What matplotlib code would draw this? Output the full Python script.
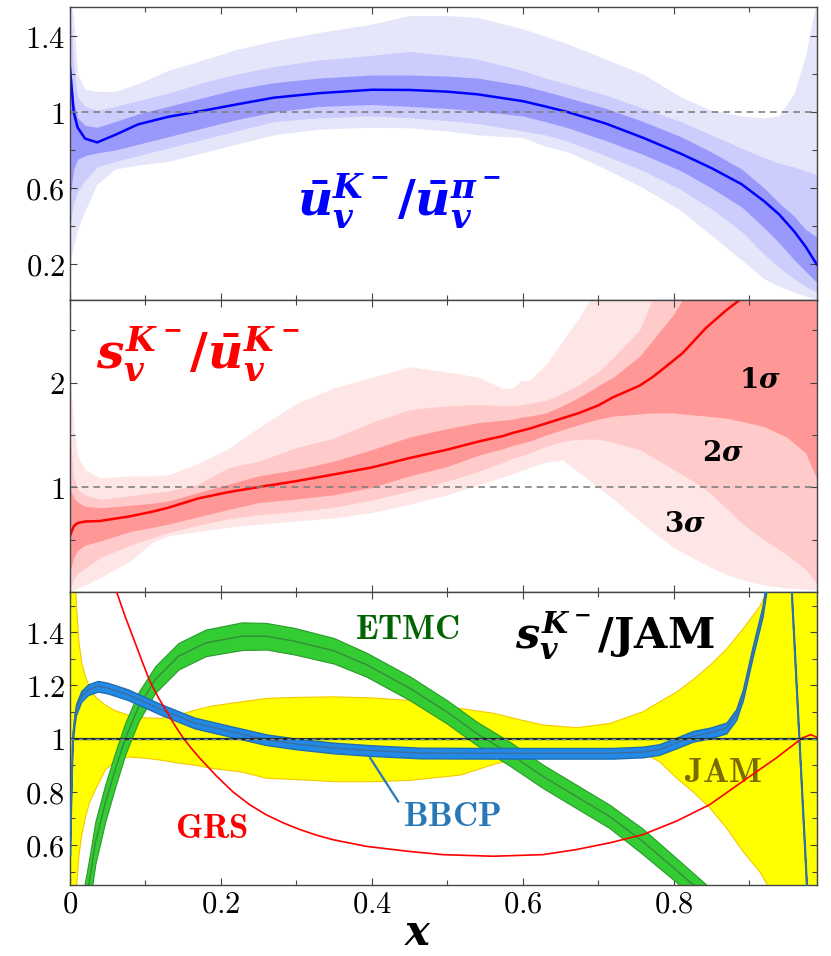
import numpy as np
import matplotlib
matplotlib.use("Agg")
import matplotlib.pyplot as plt
from matplotlib.ticker import FuncFormatter, MultipleLocator

plt.rcParams['mathtext.fontset'] = 'cm'
plt.rcParams['mathtext.it'] = 'DejaVu Serif:italic:bold'
plt.rcParams['mathtext.rm'] = 'DejaVu Serif:bold'
plt.rcParams['mathtext.bf'] = 'DejaVu Serif:bold'
plt.rcParams['mathtext.cal'] = 'DejaVu Serif:bold'
plt.rcParams['mathtext.sf'] = 'DejaVu Serif:bold'
plt.rcParams['mathtext.tt'] = 'DejaVu Serif:bold'

# ---- panel 1: ubar_v^K / ubar_v^pi ----
x_top = [0, 0.005, 0.01, 0.02, 0.036, 0.06, 0.09, 0.13, 0.18, 0.22, 0.27, 0.33, 0.40, 0.45, 0.50,
         0.54, 0.60, 0.63, 0.66, 0.71, 0.76, 0.81, 0.85, 0.89, 0.92, 0.94, 0.96, 0.975, 0.99]
u_mid = [1.23, 1.00, 0.92, 0.86, 0.84, 0.88, 0.935, 0.975, 1.01, 1.04, 1.076, 1.10, 1.118, 1.117, 1.108,
         1.094, 1.058, 1.03, 1.00, 0.94, 0.864, 0.78, 0.705, 0.62, 0.53, 0.46, 0.37, 0.29, 0.195]
u_lo1 = [0.55, 0.70, 0.75, 0.77, 0.785, 0.80, 0.83, 0.87, 0.92, 0.96, 1.00, 1.03, 1.04, 1.03, 1.02,
         1.005, 0.98, 0.95, 0.917, 0.85, 0.776, 0.69, 0.60, 0.50, 0.39, 0.31, 0.22, 0.16, 0.10]
u_hi1 = [1.30, 1.05, 0.97, 0.93, 0.92, 0.95, 0.99, 1.03, 1.08, 1.12, 1.155, 1.18, 1.196, 1.196, 1.19,
         1.18, 1.14, 1.11, 1.076, 1.02, 0.95, 0.87, 0.79, 0.70, 0.60, 0.52, 0.45, 0.38, 0.34]
u_lo2 = [0.40, 0.52, 0.58, 0.64, 0.71, 0.74, 0.77, 0.81, 0.86, 0.90, 0.95, 0.97, 0.98, 0.97, 0.955,
         0.94, 0.90, 0.88, 0.846, 0.77, 0.69, 0.59, 0.49, 0.37, 0.25, 0.18, 0.12, 0.08, 0.05]
u_hi2 = [1.60, 1.25, 1.08, 1.03, 1.01, 1.03, 1.06, 1.10, 1.16, 1.20, 1.24, 1.275, 1.30, 1.32, 1.30,
         1.28, 1.22, 1.18, 1.147, 1.09, 1.02, 0.95, 0.88, 0.81, 0.76, 0.73, 0.71, 0.69, 0.67]
u_lo3 = [0.20, 0.30, 0.38, 0.48, 0.62, 0.70, 0.72, 0.74, 0.79, 0.83, 0.88, 0.91, 0.92, 0.917, 0.90,
         0.88, 0.865, 0.82, 0.79, 0.70, 0.60, 0.48, 0.35, 0.22, 0.12, 0.08, 0.05, 0.03, 0.01]
u_hi3 = [1.60, 1.50, 1.20, 1.12, 1.11, 1.11, 1.15, 1.22, 1.28, 1.33, 1.376, 1.42, 1.465, 1.51, 1.51,
         1.50, 1.44, 1.40, 1.36, 1.28, 1.20, 1.08, 1.01, 0.98, 0.97, 0.98, 1.10, 1.30, 1.60]

# ---- panel 2: s_v^K / ubar_v^K ----
x_mid = [0, 0.005, 0.01, 0.02, 0.04, 0.08, 0.11, 0.13, 0.17, 0.21, 0.25, 0.30, 0.35, 0.40, 0.45, 0.50,
         0.543, 0.574, 0.587, 0.598, 0.609, 0.631, 0.653, 0.675, 0.689, 0.70, 0.72, 0.755, 0.772, 0.80,
         0.812, 0.843, 0.87, 0.89, 0.92, 0.95, 0.975, 0.99]
s_mid = [0.54, 0.63, 0.66, 0.675, 0.68, 0.725, 0.77, 0.806, 0.895, 0.955, 1.003, 1.06, 1.124, 1.19, 1.28, 1.36,
         1.44, 1.49, 1.52, 1.54, 1.56, 1.61, 1.66, 1.71, 1.75, 1.78, 1.86, 1.97, 2.05, 2.21,
         2.28, 2.52, 2.69, 2.80, 3.1, 3.4, 3.7, 3.9]
s_hi1 = [1.0, 0.9, 0.86, 0.82, 0.806, 0.83, 0.85, 0.87, 0.95, 1.03, 1.11, 1.17, 1.25, 1.36, 1.48, 1.56,
         1.62, 1.64, 1.65, 1.67, 1.68, 1.71, 1.78, 1.86, 1.92, 1.97, 2.05, 2.25, 2.40, 2.65,
         2.79, 3.1, 3.3, 3.5, 3.8, 4.0, 4.2, 4.3]
s_lo1 = [0.2, 0.33, 0.4, 0.45, 0.49, 0.58, 0.62, 0.65, 0.72, 0.79, 0.855, 0.89, 0.93, 1.0, 1.11, 1.20,
         1.31, 1.37, 1.40, 1.42, 1.44, 1.50, 1.55, 1.60, 1.63, 1.65, 1.68, 1.70, 1.71, 1.71,
         1.70, 1.68, 1.66, 1.63, 1.58, 1.48, 1.33, 1.08]
s_hi2 = [1.5, 1.1, 0.98, 0.93, 0.886, 0.92, 0.95, 0.965, 1.03, 1.19, 1.25, 1.38, 1.47, 1.62, 1.74, 1.78,
         1.79, 1.78, 1.78, 1.79, 1.80, 1.83, 1.90, 1.98, 2.05, 2.10, 2.24, 2.50, 2.79, 3.1,
         3.2, 3.5, 3.7, 3.9, 4.1, 4.3, 4.4, 4.5]
s_lo2 = [0.05, 0.12, 0.18, 0.23, 0.33, 0.45, 0.52, 0.57, 0.64, 0.70, 0.74, 0.77, 0.81, 0.88, 0.965, 1.06,
         1.155, 1.24, 1.28, 1.30, 1.33, 1.39, 1.44, 1.46, 1.46, 1.46, 1.43, 1.36, 1.29, 1.17,
         1.12, 0.98, 0.80, 0.66, 0.50, 0.36, 0.22, 0.08]
s_hi3 = [2.1, 1.6, 1.3, 1.17, 1.09, 1.11, 1.11, 1.12, 1.23, 1.37, 1.57, 1.80, 1.95, 2.05, 2.15, 2.10,
         2.05, 1.94, 1.95, 2.02, 2.02, 2.17, 2.40, 2.62, 2.79, 2.9, 3.2, 3.5, 3.7, 4.0,
         4.1, 4.4, 4.6, 4.8, 5.0, 5.2, 5.3, 5.4]
s_lo3 = [0.0, 0.02, 0.04, 0.07, 0.14, 0.30, 0.48, 0.54, 0.58, 0.62, 0.65, 0.68, 0.71, 0.76, 0.84, 0.93,
         1.03, 1.10, 1.13, 1.16, 1.19, 1.24, 1.26, 1.14, 1.06, 1.00, 0.89, 0.68, 0.58, 0.43,
         0.38, 0.26, 0.17, 0.12, 0.07, 0.04, 0.03, 0.02]

# ---- panel 3: s_v^K / JAM ----
x_jam = [0, 0.005, 0.008, 0.011, 0.015, 0.02, 0.025, 0.033, 0.046, 0.06, 0.077, 0.10, 0.12, 0.143, 0.165,
         0.187, 0.226, 0.26, 0.30, 0.35, 0.40, 0.45, 0.517, 0.561, 0.60, 0.627, 0.671, 0.715, 0.759,
         0.781, 0.804, 0.826, 0.848, 0.870, 0.892, 0.914, 0.93, 0.95, 0.99]
jam_hi = [1.7, 1.7, 1.5, 1.37, 1.285, 1.234, 1.197, 1.159, 1.128, 1.106, 1.09, 1.08, 1.078, 1.09, 1.109,
          1.124, 1.14, 1.153, 1.157, 1.159, 1.155, 1.145, 1.115, 1.097, 1.07, 1.053, 1.043, 1.059, 1.103,
          1.14, 1.178, 1.225, 1.278, 1.34, 1.416, 1.50, 1.6, 1.7, 1.7]
jam_lo = [0.3, 0.35, 0.44, 0.558, 0.64, 0.708, 0.76, 0.81, 0.883, 0.921, 0.933, 0.928, 0.921, 0.91, 0.902,
          0.89, 0.877, 0.853, 0.848, 0.84, 0.84, 0.845, 0.865, 0.905, 0.935, 0.95, 0.952, 0.952, 0.947,
          0.915, 0.852, 0.80, 0.74, 0.664, 0.576, 0.50, 0.42, 0.3, 0.3]

x_etmc = [0.018, 0.025, 0.0336, 0.0468, 0.06, 0.0733, 0.091, 0.113, 0.144, 0.18, 0.228, 0.26, 0.298, 0.35,
          0.393, 0.45, 0.50, 0.539, 0.583, 0.627, 0.671, 0.715, 0.759, 0.804, 0.83, 0.85]
etmc_c = [0.33, 0.45, 0.608, 0.758, 0.883, 1.0, 1.12, 1.222, 1.31, 1.36, 1.385, 1.385, 1.366, 1.33,
          1.278, 1.19, 1.10, 1.02, 0.943, 0.858, 0.783, 0.708, 0.614, 0.505, 0.44, 0.39]
etmc_w = [0.1, 0.09, 0.08, 0.07, 0.065, 0.06, 0.055, 0.05, 0.05, 0.05, 0.052, 0.05, 0.05, 0.048,
          0.045, 0.045, 0.044, 0.044, 0.045, 0.044, 0.044, 0.044, 0.048, 0.045, 0.045, 0.045]

x_bbcp = [0, 0.002, 0.0035, 0.006, 0.008, 0.015, 0.024, 0.037, 0.05, 0.077, 0.121, 0.165, 0.216, 0.26,
          0.30, 0.349, 0.40, 0.464, 0.55, 0.65, 0.72, 0.76, 0.781, 0.804, 0.826, 0.848, 0.87, 0.883,
          0.892, 0.905, 0.918, 0.93, 0.94, 0.95, 0.96, 0.97, 0.98]
bbcp_c = [0.58, 0.85, 1.0, 1.07, 1.109, 1.159, 1.184, 1.197, 1.19, 1.165, 1.109, 1.059, 1.025, 0.996,
          0.98, 0.965, 0.955, 0.946, 0.945, 0.945, 0.945, 0.95, 0.959, 0.984, 1.009, 1.021, 1.04, 1.09,
          1.165, 1.328, 1.478, 1.7, 2.0, 1.9, 1.35, 0.8, 0.25]
bbcp_w = 0.02

x_grs = [0.045, 0.062, 0.073, 0.084, 0.095, 0.106, 0.117, 0.128, 0.139, 0.15, 0.161, 0.172, 0.194, 0.216,
         0.238, 0.26, 0.283, 0.305, 0.327, 0.349, 0.393, 0.45, 0.494, 0.561, 0.627, 0.671, 0.715, 0.759,
         0.804, 0.848, 0.892, 0.936, 0.971, 0.982, 0.99]
grs = [1.70, 1.55, 1.46, 1.378, 1.295, 1.215, 1.155, 1.103, 1.05, 1.003, 0.963, 0.927, 0.86, 0.80,
       0.752, 0.714, 0.683, 0.658, 0.637, 0.62, 0.595, 0.576, 0.564, 0.558, 0.564, 0.583, 0.608, 0.639,
       0.69, 0.752, 0.84, 0.927, 1.003, 1.015, 1.005]


fig, (ax1, ax2, ax3) = plt.subplots(3, 1, sharex=True, figsize=(8.31, 9.56), dpi=100)
fig.subplots_adjust(left=0.0842, right=0.983, top=0.9927, bottom=0.0743, hspace=0)

big = dict(math_fontfamily='custom')

# panel 1
ax1.fill_between(x_top, u_lo3, u_hi3, color='#e6e6fb', lw=0)
ax1.fill_between(x_top, u_lo2, u_hi2, color='#ccccfd', lw=0)
ax1.fill_between(x_top, u_lo1, u_hi1, color='#9999fb', lw=0)
ax1.plot(x_top, u_mid, color='#0000ff', lw=1.8)
ax1.axhline(1, color='#808080', ls='--', lw=1.2, dashes=(4, 3))
ax1.text(0.437, 0.53, r'$\bar{u}_v^{K^-}/\bar{u}_v^{\pi^-}$', color='#0000ff', fontsize=35,
         ha='center', va='center', **big)

# panel 2
ax2.fill_between(x_mid, s_lo3, s_hi3, color='#ffe6e6', lw=0)
ax2.fill_between(x_mid, s_lo2, s_hi2, color='#ffcaca', lw=0)
ax2.fill_between(x_mid, s_lo1, s_hi1, color='#ff9797', lw=0)
ax2.plot(x_mid, s_mid, color='#ff0000', lw=1.8)
ax2.axhline(1, color='#808080', ls='--', lw=1.2, dashes=(4, 3))
ax2.text(0.17, 2.27, r'$s_v^{K^-}/\bar{u}_v^{K^-}$', color='#ff0000', fontsize=35,
         ha='center', va='center', **big)
ax2.text(0.914, 2.02, r'$1\sigma$', fontsize=20, ha='center', va='center', **big)
ax2.text(0.865, 1.33, r'$2\sigma$', fontsize=20, ha='center', va='center', **big)
ax2.text(0.815, 0.65, r'$3\sigma$', fontsize=20, ha='center', va='center', **big)

# panel 3
ax3.fill_between(x_jam, jam_lo, jam_hi, facecolor='#ffff00', edgecolor='#f5c800', lw=0.8, zorder=1)
etmc_c = np.array(etmc_c)
etmc_w = np.array(etmc_w)
ax3.fill_between(x_etmc, etmc_c - etmc_w, etmc_c + etmc_w, facecolor='#33cc33', edgecolor='#2a9a2a',
                 lw=0.8, zorder=2)
ax3.plot(x_etmc, etmc_c, color='#3a8a3a', lw=1.0, zorder=2.1)
bbcp_c = np.array(bbcp_c)
ax3.fill_between(x_bbcp, bbcp_c - bbcp_w, bbcp_c + bbcp_w, facecolor='#2389e6', edgecolor='#1f6fb0',
                 lw=1.0, zorder=3)
ax3.plot(x_bbcp, bbcp_c, color='#3d6f9e', lw=1.0, zorder=3.1)
ax3.plot(x_grs, grs, color='#ff0000', lw=1.2, zorder=4)
ax3.axhline(1, color='#1b2b33', lw=1.6, zorder=5)
ax3.axhline(1, color='#7f8f96', lw=1.0, ls='--', dashes=(3, 3), zorder=5.1)
ax3.plot([0.398, 0.435], [0.927, 0.764], color='#2878b8', lw=1.6, zorder=4)

ax3.text(0.447, 1.413, r'$\mathbf{ETMC}$', color='#006400', fontsize=25, ha='center', va='center')
ax3.text(0.722, 1.387, r'$s_v^{K^-}/\mathrm{JAM}$', color='black', fontsize=31,
         ha='center', va='center', **big)
ax3.text(0.865, 0.876, r'$\mathbf{JAM}$', color='#7a6c00', fontsize=25, ha='center', va='center')
ax3.text(0.188, 0.665, r'$\mathbf{GRS}$', color='#ff0000', fontsize=25, ha='center', va='center')
ax3.text(0.506, 0.71, r'$\mathbf{BBCP}$', color='#2878b8', fontsize=25, ha='center', va='center')

fig.text(0.503, 0.011, r'$x$', fontsize=30, ha='center', va='baseline', **big)

# axes cosmetics
fmt = FuncFormatter(lambda v, p: '$%g$' % round(v, 2))
for ax in (ax1, ax2, ax3):
    ax.set_xlim(0, 0.99)
    ax.xaxis.set_major_locator(MultipleLocator(0.2))
    ax.xaxis.set_minor_locator(MultipleLocator(0.1))
    ax.tick_params(which='both', direction='in', top=True, right=True, color='#444444',
                   labelsize=22, width=0.8)
    ax.tick_params(which='major', length=5)
    ax.tick_params(which='minor', length=3.5)
    ax.xaxis.set_major_formatter(fmt)
    ax.yaxis.set_major_formatter(fmt)
    for sp in ax.spines.values():
        sp.set_color('#444444')
        sp.set_linewidth(1.0)

ax1.set_ylim(0.01, 1.555)
ax1.set_yticks([0.2, 0.6, 1.0, 1.4])
ax1.set_yticks([0.4, 0.8, 1.2], minor=True)

ax2.set_ylim(0, 2.79)
ax2.set_yticks([1, 2])
ax2.set_yticks([0.5, 1.5, 2.5], minor=True)

ax3.set_ylim(0.45, 1.55)
ax3.set_yticks([0.6, 0.8, 1.0, 1.2, 1.4])
ax3.yaxis.set_minor_locator(MultipleLocator(0.1))

plt.savefig('out.png', dpi=100)
plt.close()
